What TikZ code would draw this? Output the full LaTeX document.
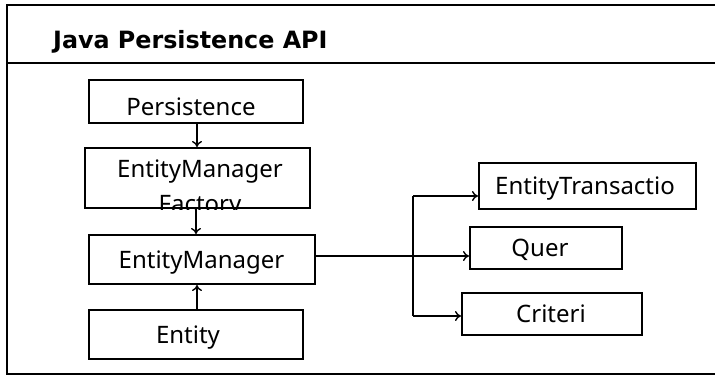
\documentclass[tikz,border=0pt]{standalone}
\usepackage{fontspec}
\setmainfont{Noto Sans}
\newfontfamily\titlefont{DejaVu Sans}
\usetikzlibrary{arrows.meta}
\tikzset{
  box/.style={draw, line width=2pt, inner sep=0pt},
  conn/.style={line width=1.4pt, -{To[length=6pt,width=10pt]}},
  plain/.style={line width=1.4pt},
  frame/.style={line width=2pt},
  lbl/.style={inner sep=0pt, font=\fontsize{24}{28}\selectfont}
}
\begin{document}
\begin{tikzpicture}[x=1pt,y=-1pt]
\useasboundingbox (0,0) rectangle (715,376);
% outer frame
\draw[frame] (720,4.5) -- (7,4.5) -- (7,373.5) -- (720,373.5);
\draw[frame] (7,62.5) -- (720,62.5);
\node[anchor=base west, inner sep=0pt, font=\titlefont\bfseries\fontsize{23.8}{28}\selectfont] (title) at (53,48) {Java Persistence API};
% left column
\node[box, minimum width=214, minimum height=43] (pers) at (196,101.5) {};
\node[lbl, anchor=base] (perst) at (191,115) {Persistence};
\node[box, minimum width=225, minimum height=60] (fac) at (197.5,178) {};
\begin{scope}
\clip (fac.south west) rectangle (fac.north east);
\node[lbl, anchor=base] (fact1) at (200,177) {EntityManager};
\node[lbl, anchor=base] (fact2) at (200,212) {Factory};
\end{scope}
\node[box, minimum width=226, minimum height=49] (em) at (202,259.5) {};
\node[lbl, anchor=base] (emt) at (201.5,268) {EntityManager};
\node[box, minimum width=214, minimum height=49] (ent) at (196,334.5) {};
\node[lbl, anchor=base] (entt) at (188,343) {Entity};
% right column
\node[box, minimum width=217, minimum height=46] (tx) at (587.5,186) {};
\node[lbl, anchor=base] (txt) at (585,194) {EntityTransactio};
\node[box, minimum width=152, minimum height=42] (q) at (546,248) {};
\node[lbl, anchor=base] (qt) at (540,256) {Quer};
\node[box, minimum width=180, minimum height=42] (cr) at (552,314) {};
\node[lbl, anchor=base] (crt) at (551,322) {Criteri};
% connectors
\draw[conn] (pers.south -| 197,0) -- (fac.north -| 197,0);
\draw[conn] (fac.south -| 196,0) -- (em.north -| 196,0);
\draw[conn] (ent.north -| 197,0) -- (em.south -| 197,0);
\coordinate (br) at (413,256);
\coordinate (brt) at (413,196);
\coordinate (brb) at (413,316);
\draw[conn] (em.east |- br) -- (q.west |- br);
\draw[plain] (brt) -- (brb);
\draw[conn] (brt) -- (tx.west |- brt);
\draw[conn] (brb) -- (cr.west |- brb);
\end{tikzpicture}
\end{document}
